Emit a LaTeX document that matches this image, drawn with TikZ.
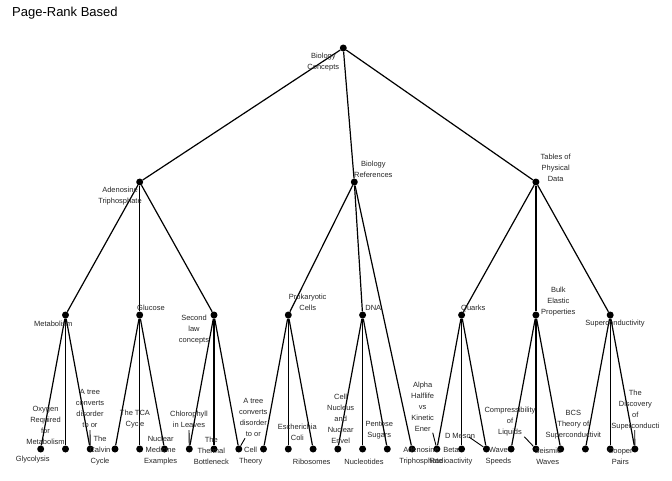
\documentclass[tikz,border=0pt]{standalone}
\usepackage{fontspec}
\setmainfont{Liberation Sans}
\usepackage{tikz}
\usetikzlibrary{shapes,arrows}
\tikzstyle{treedot}=[circle, fill=black, inner sep=0pt, minimum size=7pt]
\tikzstyle{treelabel}=[font=\fontsize{7.5pt}{11pt}\selectfont, align=center, inner sep=0pt, text=black!85]
\tikzstyle{treeline}=[draw, line width=1.2pt]
\newcommand{\treedot}[2]{
	\node[treedot] (#1) at (#2) {};}
\newcommand{\treelabel}[3]{
	\node[treelabel] (#1) at (#2) {#3};}

\begin{document}
\begin{tikzpicture}[x=1pt, y=-1pt]
\useasboundingbox (0,0) rectangle (672,480);
\node[anchor=west, inner sep=0pt, font=\fontsize{13pt}{15pt}\selectfont] (title) at (12,13) {Page-Rank Based};
% root and first level
\treedot{root}{343.3,48}
\treedot{atp}{139.7,182}
\treedot{bioref}{354.3,182}
\treedot{tables}{535.9,182}
% second level
\treedot{metab}{65.5,315}
\treedot{glucose}{139.7,315}
\treedot{secondlaw}{214,315}
\treedot{prok}{288.3,315}
\treedot{dna}{362.6,315}
\treedot{quarks}{461.6,315}
\treedot{bulk}{535.9,315}
\treedot{supercond}{610.2,315}
% leaves
\treedot{l0}{40.7,449}
\treedot{l1}{65.5,449}
\treedot{l2}{90.2,449}
\treedot{l3}{115,449}
\treedot{l4}{139.7,449}
\treedot{l5}{164.5,449}
\treedot{l6}{189.3,449}
\treedot{l7}{214,449}
\treedot{l8}{238.8,449}
\treedot{l9}{263.5,449}
\treedot{l10}{288.3,449}
\treedot{l11}{313.1,449}
\treedot{l12}{337.8,449}
\treedot{l13}{362.6,449}
\treedot{l14}{387.3,449}
\treedot{l15}{412.1,449}
\treedot{l16}{436.9,449}
\treedot{l17}{461.6,449}
\treedot{l18}{486.4,449}
\treedot{l19}{511.1,449}
\treedot{l20}{535.9,449}
\treedot{l21}{560.7,449}
\treedot{l22}{585.4,449}
\treedot{l23}{610.2,449}
\treedot{l24}{634.9,449}
% edges
\path[treeline] (root) -- (atp);
\path[treeline] (root) -- (bioref);
\path[treeline] (root) -- (tables);
\path[treeline] (atp) -- (metab);
\path[treeline] (atp) -- (glucose);
\path[treeline] (atp) -- (secondlaw);
\path[treeline] (bioref) -- (prok);
\path[treeline] (bioref) -- (dna);
\path[treeline] (bioref) -- (l15);
\path[treeline] (tables) -- (quarks);
\path[treeline] (tables) -- (bulk);
\path[treeline] (tables) -- (supercond);
\path[treeline] (metab) -- (l0);
\path[treeline] (metab) -- (l1);
\path[treeline] (metab) -- (l2);
\path[treeline] (glucose) -- (l3);
\path[treeline] (glucose) -- (l4);
\path[treeline] (glucose) -- (l5);
\path[treeline] (secondlaw) -- (l6);
\path[treeline] (secondlaw) -- (l7);
\path[treeline] (secondlaw) -- (l8);
\path[treeline] (prok) -- (l9);
\path[treeline] (prok) -- (l10);
\path[treeline] (prok) -- (l11);
\path[treeline] (dna) -- (l12);
\path[treeline] (dna) -- (l13);
\path[treeline] (dna) -- (l14);
\path[treeline] (quarks) -- (l16);
\path[treeline] (quarks) -- (l17);
\path[treeline] (quarks) -- (l18);
\path[treeline] (bulk) -- (l19);
\path[treeline] (bulk) -- (l20);
\path[treeline] (bulk) -- (l21);
\path[treeline] (supercond) -- (l22);
\path[treeline] (supercond) -- (l23);
\path[treeline] (supercond) -- (l24);
% labels of inner nodes
\treelabel{tRoot}{323.3,62.2}{Biology\\Concepts}
\treelabel{tAtp}{120,196}{Adenosine\\Triphosphate}
\treelabel{tBioref}{373.3,169.8}{Biology\\References}
\treelabel{tTables}{555.7,168}{Tables of\\Physical\\Data}
\treelabel{tMetab}{53.3,324}{Metabolism}
\treelabel{tGlucose}{151,308.3}{Glucose}
\treelabel{tSecondlaw}{194,330}{Second\\law\\concepts}
\treelabel{tProk}{307.7,302.8}{Prokaryotic\\Cells}
\treelabel{tDna}{373.3,308.3}{DNA}
\treelabel{tQuarks}{473.3,308.3}{Quarks}
\treelabel{tBulk}{558.3,301.2}{Bulk\\Elastic\\Properties}
\treelabel{tSupercond}{615,324}{Superconductivity}
% labels of leaves
\treelabel{t0}{32.7,460}{Glycolysis}
\treelabel{t1}{45.5,425.5}{Oxygen\\Required\\for\\Metabolism}
\treelabel{t2}{90,408.7}{A tree\\converts\\disorder\\to or}
\treelabel{t3}{100,451}{The\\Calvin\\Cycle}
\treelabel{t4}{135,419.5}{The TCA\\Cycle}
\treelabel{t5}{160.7,451}{Nuclear\\Medicine\\Examples}
\treelabel{t6}{189,419.5}{Chlorophyll\\in Leaves}
\treelabel{t7}{211.3,451}{The\\Thermal\\Bottleneck}
\treelabel{t8}{253.3,417}{A tree\\converts\\disorder\\to or}
\treelabel{t9}{250.7,456.2}{Cell\\Theory}
\treelabel{t10}{297.3,432.8}{Escherichia\\Coli}
\treelabel{t11}{311.7,461.7}{Ribosomes}
\treelabel{t12}{340.7,419}{Cell\\Nucleus\\and\\Nuclear\\Envel}
\treelabel{t14}{379.3,430}{Pentose\\Sugars}
\treelabel{t13}{364,461.7}{Nucleotides}
\treelabel{t16}{422.7,406.7}{Alpha\\Halflife\\vs\\Kinetic\\Ener}
\treelabel{t15}{421,456.3}{Adenosine\\Triphosphate}
\treelabel{t17}{451,456.3}{Beta\\Radioactivity}
\treelabel{t18}{460,435.7}{D Meson}
\treelabel{t19}{498.3,456.3}{Wave\\Speeds}
\treelabel{t20}{510,421.8}{Compressibility\\of\\Liquids}
\treelabel{t21}{547.7,456.3}{Seismic\\Waves}
\treelabel{t22}{573.3,424.7}{BCS\\Theory of\\Superconductivit}
\treelabel{t24}{635.3,410}{The\\Discovery\\of\\Superconducti}
\treelabel{t23}{620.3,456.8}{Cooper\\Pairs}
% label segments
\coordinate (s2) at (90,430);
\coordinate (s6) at (189,430);
\coordinate (s8) at (245,438.3);
\coordinate (s16) at (432.7,432.7);
\coordinate (s18) at (469,437);
\coordinate (s20) at (524.3,436.7);
\coordinate (s24) at (634.7,430);
\draw[line width=0.9pt] (s2) -- (l2);
\draw[line width=0.9pt] (s6) -- (l6);
\draw[line width=0.9pt] (s8) -- (l8);
\draw[line width=0.9pt] (s16) -- (l16);
\draw[line width=0.9pt] (s18) -- (l18);
\draw[line width=0.9pt] (s20) -- (l20);
\draw[line width=0.9pt] (s24) -- (l24);
\end{tikzpicture}
\end{document}
